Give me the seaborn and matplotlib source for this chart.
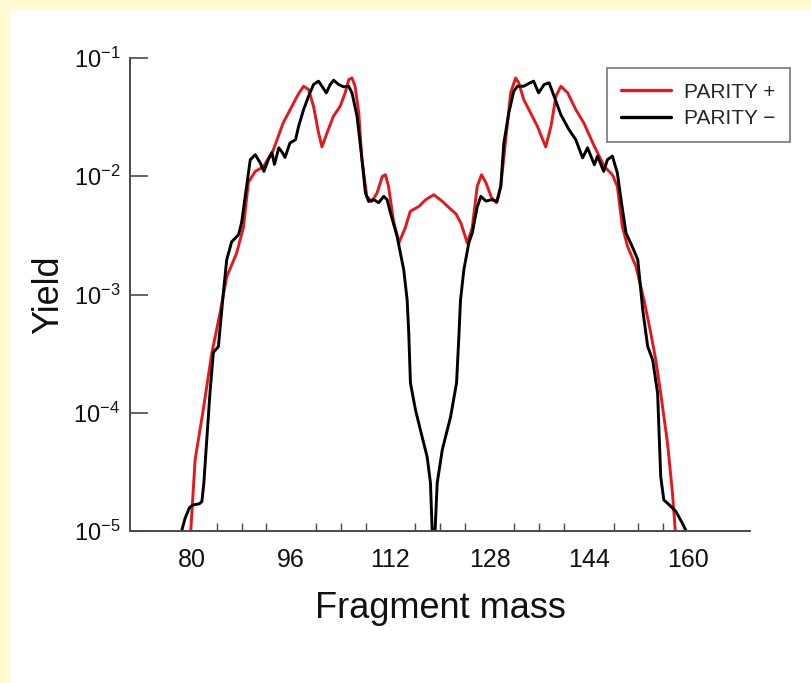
import matplotlib
matplotlib.use("Agg")
import matplotlib.pyplot as plt
import matplotlib.patches as mpatches
from matplotlib.ticker import FixedLocator, NullLocator
import seaborn as sns
import pandas as pd

# ---------------- data ----------------
mass_plus = [79.6, 79.8, 80.5, 81.8, 83.2, 84.5, 85.6, 87.2, 88.3, 89.1, 90.2, 91.5, 93.1, 94.7,
             96.4, 97.2, 98.0, 98.8, 99.6, 100.4, 100.96, 101.8, 102.8, 103.9, 104.7, 105.3,
             105.8, 106.3, 106.9, 107.4, 108.2, 109.0, 109.85, 110.7, 111.2, 111.7, 112.5,
             113.4, 114.4, 115.2, 116.6, 117.7, 119.0, 120.4, 121.5, 122.6, 123.4, 124.4,
             125.2, 126.0, 126.7, 127.4, 128.3, 129.1, 129.8, 130.6, 131.4, 132.2, 132.7,
             133.5, 134.6, 135.7, 137.05, 137.9, 138.7, 139.5, 140.6, 141.9, 143.2, 144.9,
             146.5, 147.8, 148.6, 149.4, 150.25, 151.6, 152.9, 154.0, 154.8, 155.6, 156.7,
             157.5, 157.95, 158.1]
yield_plus = [7.9e-6, 1.0e-5, 4.0e-5, 1.05e-4, 3.2e-4, 6.9e-4, 1.41e-3, 2.24e-3, 3.7e-3, 8.9e-3,
              1.10e-2, 1.20e-2, 1.66e-2, 2.82e-2, 4.17e-2, 5.0e-2, 5.77e-2, 5.41e-2, 3.91e-2,
              2.34e-2, 1.77e-2, 2.34e-2, 3.21e-2, 3.91e-2, 5.07e-2, 6.58e-2, 6.79e-2, 5.77e-2,
              3.44e-2, 1.38e-2, 6.76e-3, 6.12e-3, 7.23e-3, 9.98e-3, 1.03e-2, 8.22e-3, 4.17e-3,
              2.75e-3, 3.67e-3, 5.05e-3, 5.56e-3, 6.34e-3, 6.98e-3, 6.12e-3, 5.40e-3, 4.79e-3,
              3.98e-3, 2.72e-3, 3.67e-3, 8.22e-3, 1.03e-2, 8.83e-3, 6.61e-3, 5.96e-3, 8.22e-3,
              2.04e-2, 5.07e-2, 6.79e-2, 6.17e-2, 4.46e-2, 3.44e-2, 2.65e-2, 1.77e-2, 2.65e-2,
              4.75e-2, 5.77e-2, 5.07e-2, 3.66e-2, 2.82e-2, 1.79e-2, 1.21e-2, 1.03e-2, 8.22e-3,
              3.77e-3, 2.55e-3, 1.73e-3, 9.0e-4, 4.71e-4, 2.80e-4, 1.46e-4, 5.52e-5, 2.08e-5,
              1.0e-5, 7.9e-6]

mass_minus = [78.2, 78.33, 78.9, 79.6, 80.2, 81.2, 81.6, 81.9, 82.9, 83.45, 84.26, 85.06, 85.6,
              86.4, 87.5, 88.0, 88.8, 89.4, 90.2, 91.0, 91.6, 92.3, 92.9, 93.3, 94.0, 94.6,
              95.0, 95.8, 96.7, 97.2, 98.0, 98.8, 99.6, 100.4, 100.96, 101.66, 102.3, 102.84,
              103.65, 104.46, 105.26, 105.81, 106.62, 107.43, 107.96, 108.5, 109.31, 110.11,
              110.92, 111.47, 112.0, 113.08, 114.15, 114.70, 114.96, 115.23, 116.04, 117.12,
              117.93, 118.46, 118.95, 119.55, 120.36, 121.70, 122.67, 123.04, 123.31, 123.85,
              124.65, 125.2, 126.0, 126.6, 127.4, 128.4, 129.2, 129.8, 130.3, 131.1, 131.9,
              132.5, 133.5, 134.3, 135.1, 135.9, 136.8, 137.6, 138.4, 139.5, 140.8, 141.9,
              143.0, 143.8, 144.9, 145.4, 146.4, 147.0, 147.8, 148.6, 149.2, 150.0, 151.0,
              151.9, 152.7, 153.5, 154.3, 155.1, 155.6, 156.1, 157.0, 158.06, 159.1, 159.7,
              159.8]
yield_minus = [7.9e-6, 1.0e-5, 1.29e-5, 1.58e-5, 1.66e-5, 1.70e-5, 1.78e-5, 2.51e-5, 1.48e-4,
               3.24e-4, 3.63e-4, 1.04e-3, 1.97e-3, 2.79e-3, 3.20e-3, 4.05e-3, 8.17e-3, 1.38e-2,
               1.52e-2, 1.30e-2, 1.10e-2, 1.38e-2, 1.58e-2, 1.26e-2, 1.74e-2, 1.58e-2, 1.44e-2,
               1.91e-2, 2.04e-2, 2.65e-2, 3.66e-2, 4.75e-2, 5.97e-2, 6.37e-2, 5.77e-2, 5.07e-2,
               5.97e-2, 6.49e-2, 5.97e-2, 5.70e-2, 5.77e-2, 5.07e-2, 3.21e-2, 1.38e-2, 7.26e-3,
               6.12e-3, 6.34e-3, 5.97e-3, 6.76e-3, 6.34e-3, 4.92e-3, 3.10e-3, 1.62e-3, 9.0e-4,
               4.74e-4, 1.79e-4, 1.06e-4, 6.24e-5, 4.23e-5, 2.55e-5, 5.0e-6, 2.55e-5, 4.84e-5,
               9.2e-5, 1.79e-4, 4.39e-4, 9.0e-4, 1.62e-3, 2.74e-3, 3.31e-3, 5.50e-3, 6.76e-3,
               6.17e-3, 6.34e-3, 6.12e-3, 8.22e-3, 1.91e-2, 3.44e-2, 5.24e-2, 5.77e-2, 5.77e-2,
               6.08e-2, 6.37e-2, 5.07e-2, 5.97e-2, 6.17e-2, 4.75e-2, 3.31e-2, 2.48e-2, 2.04e-2,
               1.43e-2, 1.74e-2, 1.25e-2, 1.48e-2, 1.10e-2, 1.38e-2, 1.48e-2, 1.07e-2, 6.34e-3,
               3.31e-3, 2.55e-3, 1.97e-3, 7.4e-4, 3.63e-4, 2.80e-4, 1.46e-4, 2.88e-5, 1.83e-5,
               1.66e-5, 1.46e-5, 1.16e-5, 1.0e-5, 7.9e-6]

series_labels = ["PARITY +", "PARITY \u2212"]
x_ticks = [80, 96, 112, 128, 144, 160]
x_minor = [84, 88, 92, 100, 104, 108, 116, 120, 124, 132, 136, 140, 148, 152, 156]
y_ticks = [1e-5, 1e-4, 1e-3, 1e-2, 1e-1]
y_ticklabels = [r"$\mathregular{10^{-5}}$", r"$\mathregular{10^{-4}}$", r"$\mathregular{10^{-3}}$",
                r"$\mathregular{10^{-2}}$", r"$\mathregular{10^{-1}}$"]

df = pd.concat([
    pd.DataFrame({"mass": mass_plus, "yield": yield_plus, "parity": series_labels[0]}),
    pd.DataFrame({"mass": mass_minus, "yield": yield_minus, "parity": series_labels[1]}),
], ignore_index=True)

# ---------------- plot ----------------
sns.set_theme(style="white")
plt.rcParams["font.family"] = ["Liberation Sans", "DejaVu Sans"]

W, H = 811, 683
fig = plt.figure(figsize=(W / 100, H / 100), dpi=100)
fig.patch.set_facecolor("white")
yellow = "#FFFACF"
fig.patches.append(mpatches.Rectangle((0, 0), 10 / W, 1, transform=fig.transFigure,
                                      facecolor=yellow, edgecolor="none", zorder=0))
fig.patches.append(mpatches.Rectangle((0, 1 - 9 / H), 1, 9 / H, transform=fig.transFigure,
                                      facecolor=yellow, edgecolor="none", zorder=0))

ax = fig.add_axes([130 / W, 1 - 531 / H, (750 - 130) / W, (531 - 58) / H])
ax.set_facecolor("none")

sns.lineplot(data=df, x="mass", y="yield", hue="parity", sort=False,
             palette={series_labels[0]: "#e3191c", series_labels[1]: "#000000"},
             linewidth=2.1, ax=ax, legend=True)

ax.set_yscale("log")
ax.set_xlim(70, 170)
ax.set_ylim(1e-5, 1e-1)

ax.xaxis.set_major_locator(FixedLocator(x_ticks))
ax.xaxis.set_minor_locator(FixedLocator(x_minor))
ax.set_yticks(y_ticks)
ax.set_yticklabels(y_ticklabels)
ax.yaxis.set_minor_locator(NullLocator())

spine_col = "#4a4a4a"
for s in ["top", "right"]:
    ax.spines[s].set_visible(False)
for s in ["left", "bottom"]:
    ax.spines[s].set_color(spine_col)
    ax.spines[s].set_linewidth(1.4)

ax.tick_params(axis="x", which="major", direction="in", length=13, width=1.2,
               color=spine_col, labelsize=18, pad=12, labelcolor="#111111")
ax.tick_params(axis="x", which="minor", direction="in", length=6, width=1.0,
               color=spine_col, bottom=True)
ax.tick_params(axis="y", which="major", direction="in", length=13, width=1.2,
               color=spine_col, labelsize=17, pad=7, labelcolor="#111111", left=True)

ax.set_xlabel("Fragment mass", fontsize=26, labelpad=14, color="#111111")
ax.set_ylabel("Yield", fontsize=26, labelpad=5, color="#111111")

leg = ax.legend(loc="upper right", bbox_to_anchor=(790 / W, 1 - 68 / H),
                bbox_transform=fig.transFigure, borderaxespad=0, frameon=True,
                fancybox=False, fontsize=15, handlelength=2.4, handletextpad=0.6,
                borderpad=0.7, labelspacing=0.35, title=None)
leg.get_frame().set_edgecolor("#555555")
leg.get_frame().set_linewidth(1.2)
for line in leg.get_lines():
    line.set_linewidth(2.4)

fig.savefig("out.png", dpi=100, facecolor=fig.get_facecolor())
